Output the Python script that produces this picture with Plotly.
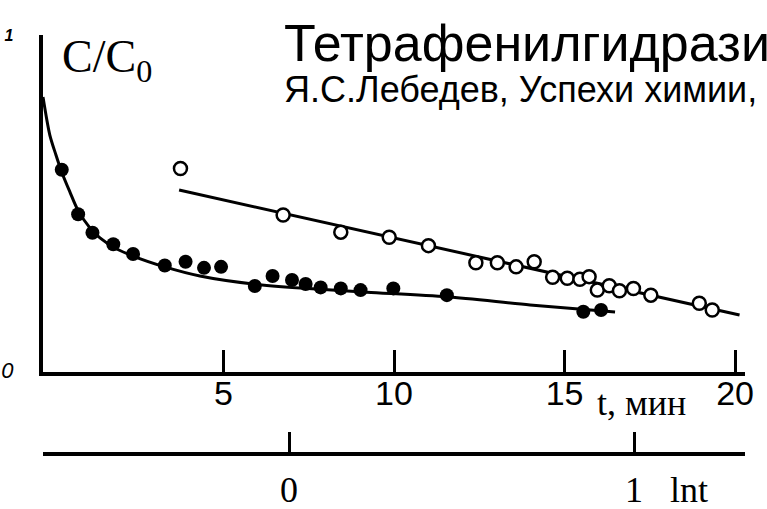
import plotly.graph_objects as go

# filled circles (t, min ; C/C0)
t_filled = [0.26, 0.74, 1.16, 1.77, 2.35, 3.28, 3.89, 4.43, 4.93, 5.92, 6.44,
            7.01, 7.41, 7.85, 8.44, 9.02, 9.98, 11.55, 15.55, 16.07]
c_filled = [0.600, 0.468, 0.413, 0.379, 0.350, 0.316, 0.327, 0.309, 0.312, 0.255,
            0.285, 0.273, 0.261, 0.251, 0.248, 0.243, 0.248, 0.228, 0.179, 0.184]

# smooth curve through filled circles
t_fit_filled = [-0.29, -0.09, 0.09, 0.26, 0.50, 0.73, 1.09, 1.38, 1.82, 2.35, 3.28,
                4.31, 5.87, 7.25, 9.21, 11.56, 13.99, 16.48]
c_fit_filled = [0.816, 0.703, 0.644, 0.593, 0.534, 0.481, 0.427, 0.398, 0.368, 0.344,
                0.312, 0.285, 0.261, 0.249, 0.237, 0.223, 0.199, 0.178]

# open circles
t_open = [3.74, 6.75, 8.44, 9.86, 11.01, 12.40, 13.03, 13.58, 14.11, 14.65, 15.08,
          15.45, 15.72, 15.96, 16.31, 16.61, 17.02, 17.53, 18.95, 19.33]
c_open = [0.604, 0.466, 0.415, 0.400, 0.375, 0.324, 0.324, 0.312, 0.327, 0.281, 0.278,
          0.275, 0.283, 0.243, 0.256, 0.241, 0.248, 0.228, 0.204, 0.184]

# straight line through open circles
t_fit_open = [3.70, 20.13]
c_fit_open = [0.540, 0.169]

t_ticks = [5, 10, 15, 20]
lnt_ticks = [0, 1]
c_ticks = [0, 1]
c_ticktext = ['<span style="font-size:22px"><i>0</i></span>',
              '<span style="font-size:16px"><b><i>1</i></b></span>']

fig = go.Figure()
fig.add_trace(go.Scatter(x=t_fit_filled, y=c_fit_filled, mode="lines",
                         line=dict(color="black", width=3, shape="spline", smoothing=0.8),
                         hoverinfo="skip", showlegend=False))
fig.add_trace(go.Scatter(x=t_fit_open, y=c_fit_open, mode="lines",
                         line=dict(color="black", width=3), hoverinfo="skip", showlegend=False))
fig.add_trace(go.Scatter(x=t_filled, y=c_filled, mode="markers",
                         marker=dict(size=14, color="black"), showlegend=False))
fig.add_trace(go.Scatter(x=t_open, y=c_open, mode="markers",
                         marker=dict(size=13, color="white", line=dict(color="black", width=2.5)),
                         showlegend=False))
# carrier for the lnt axis
fig.add_trace(go.Scatter(x=lnt_ticks, y=[0, 0], mode="none", xaxis="x2", yaxis="y2",
                         hoverinfo="skip", showlegend=False))

W, H = 767, 509
L, R, T, B = 43, 22, 35, 57
pw, ph = W - L - R, H - T - B

def px(x):
    return (x - L) / pw

def py(y):
    return (H - B - y) / ph

fig.update_layout(
    template="none",
    width=W, height=H, autosize=False,
    margin=dict(l=L, r=R, t=T, b=B, pad=0),
    paper_bgcolor="white", plot_bgcolor="white",
    font=dict(family="Liberation Sans, Arial", color="black"),
    xaxis=dict(domain=[0, 1], range=[-0.29, 20.29], anchor="y", automargin=False,
               tickmode="array", tickvals=t_ticks, ticks="inside", ticklen=22,
               tickwidth=3, tickcolor="black", showline=True, linewidth=4,
               linecolor="black", showgrid=False, zeroline=False,
               tickfont=dict(family="Liberation Sans, Arial", size=34, color="black"),
               ticklabelstandoff=-12),
    yaxis=dict(domain=[(H - B - 372) / ph, 1], range=[0, 1], anchor="x", automargin=False,
               tickmode="array", tickvals=c_ticks, ticktext=c_ticktext,
               ticks="inside", ticklen=12, tickwidth=3, tickcolor="black",
               showline=True, linewidth=4, linecolor="black", showgrid=False,
               zeroline=False,
               tickfont=dict(family="Liberation Sans, Arial", size=18, color="black"),
               ticklabelstandoff=22),
    xaxis2=dict(domain=[0, 1], range=[(43 - 289) / 345, (745 - 289) / 345], anchor="y2",
                automargin=False,
                tickmode="array", tickvals=lnt_ticks, ticks="inside", ticklen=20,
                tickwidth=3, tickcolor="black", showline=True, linewidth=4,
                linecolor="black", showgrid=False, zeroline=False,
                tickfont=dict(family="Liberation Serif, Times New Roman", size=36, color="black"),
                ticklabelstandoff=3),
    yaxis2=dict(domain=[0, 0.02], visible=False, anchor="x2", range=[-1, 1], automargin=False),
)

ann = [
    dict(text="t, мин", x=px(641), y=py(403), xanchor="center", yanchor="middle",
         font=dict(family="Liberation Serif, Times New Roman", size=36)),
    dict(text="lnt", x=px(689), y=py(490), xanchor="center", yanchor="middle",
         font=dict(family="Liberation Serif, Times New Roman", size=36)),
    dict(text="C/C<sub>0</sub>", x=px(60), y=py(60), xanchor="left", yanchor="middle",
         font=dict(family="Liberation Serif, Times New Roman", size=46)),
    dict(text="Тетрафенилгидразин", x=px(282), y=py(43), xanchor="left", yanchor="middle",
         font=dict(family="Liberation Sans, Arial", size=52)),
    dict(text="Я.С.Лебедев, Успехи химии, ", x=px(282), y=py(90), xanchor="left",
         yanchor="middle", font=dict(family="Liberation Sans, Arial", size=36)),
]
for a in ann:
    a.update(xref="paper", yref="paper", showarrow=False)
fig.update_layout(annotations=ann)

fig.write_html("out.html")
